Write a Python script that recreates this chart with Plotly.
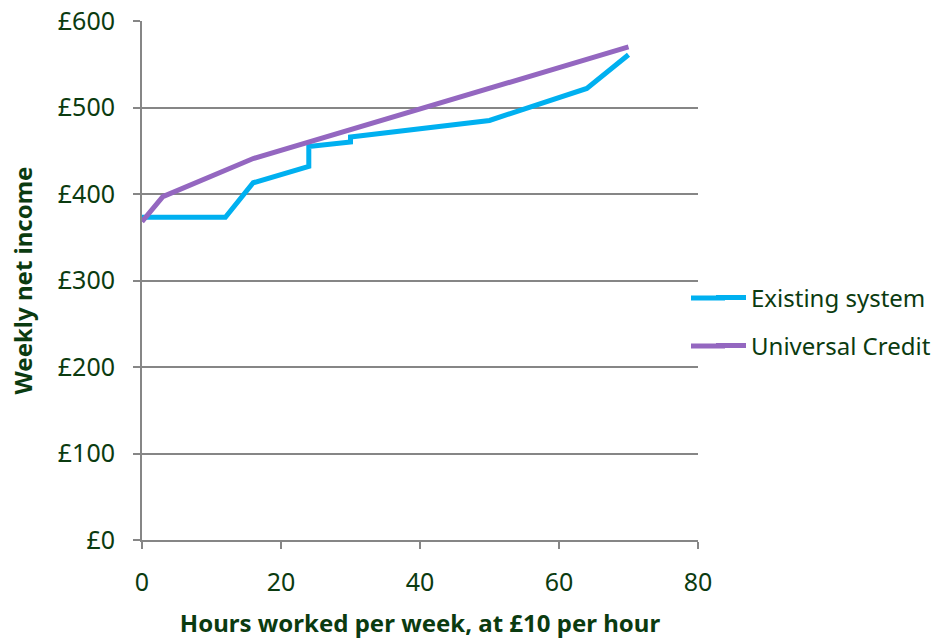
import plotly.graph_objects as go

hours_existing = [0, 12, 16, 24, 24, 30, 30, 50, 64, 70]
income_existing = [373, 373, 413, 432, 455, 460, 466, 485, 522, 561]

hours_uc = [0, 3, 16, 70]
income_uc = [368, 397, 441, 570]

x_ticks = [0, 20, 40, 60, 80]
y_ticks = [0, 100, 200, 300, 400, 500, 600]
y_tick_labels = ["£0", "£100", "£200", "£300", "£400", "£500", "£600"]

TEXT = "#0B3B10"
GRID = "#868686"
FONT = "Noto Sans"
BLUE = "#00B0F0"
PURPLE = "#9467C0"

W, H = 937, 639
L, R, T, B = 142, 239, 21, 99
PW, PH = W - L - R, H - T - B

fig = go.Figure()
fig.add_trace(go.Scatter(x=hours_existing, y=income_existing, mode="lines",
                         name="Existing system", line=dict(color=BLUE, width=5),
                         legend="legend"))
fig.add_trace(go.Scatter(x=hours_uc, y=income_uc, mode="lines",
                         name="Universal Credit", line=dict(color=PURPLE, width=5),
                         legend="legend2"))

leg_x = (711 - 142) / PW
leg1_y = (540 - 298) / PH
leg2_y = (540 - 346) / PH

# extend the short legend sample lines to the reference's longer ones
for yy, col in [(leg1_y, BLUE), (leg2_y, PURPLE)]:
    fig.add_shape(type="line", xref="paper", yref="paper",
                  x0=(691 - 142) / PW, x1=(725 - 142) / PW, y0=yy, y1=yy,
                  line=dict(color=col, width=5), layer="above")

fig.update_layout(
    width=W, height=H,
    margin=dict(l=L, r=R, t=T, b=B, autoexpand=False),
    plot_bgcolor="white", paper_bgcolor="white",
    font=dict(family=FONT, size=24, color=TEXT),
    showlegend=True,
    legend=dict(x=leg_x, y=leg1_y, xanchor="left", yanchor="middle",
                font=dict(size=24, color=TEXT), bgcolor="rgba(0,0,0,0)"),
    legend2=dict(x=leg_x, y=leg2_y, xanchor="left", yanchor="middle",
                 font=dict(size=24, color=TEXT), bgcolor="rgba(0,0,0,0)"),
)
fig.update_xaxes(range=[0, 80], tickvals=x_ticks, showgrid=False, automargin=False,
                 showline=True, linecolor=GRID, linewidth=2,
                 ticks="outside", ticklen=7, tickcolor=GRID, tickwidth=1.5,
                 ticklabelstandoff=12,
                 tickfont=dict(size=25, color=TEXT), zeroline=False,
                 title=dict(text="<b>Hours worked per week, at £10 per hour</b>",
                            font=dict(size=24, color=TEXT), standoff=18))
fig.update_yaxes(range=[0, 600], tickvals=y_ticks, ticktext=y_tick_labels,
                 automargin=False,
                 showgrid=True, gridcolor=GRID, gridwidth=2,
                 showline=True, linecolor=GRID, linewidth=2,
                 ticks="outside", ticklen=7, tickcolor=GRID, tickwidth=1.5,
                 ticklabelstandoff=13,
                 tickfont=dict(size=25, color=TEXT), zeroline=False,
                 title=dict(text="<b>Weekly net income</b>",
                            font=dict(size=24, color=TEXT), standoff=18))

fig.write_html("out.html",
               config={"displayModeBar": False},
               post_script="document.body.style.margin='0';"
                           "document.body.style.overflow='hidden';")
